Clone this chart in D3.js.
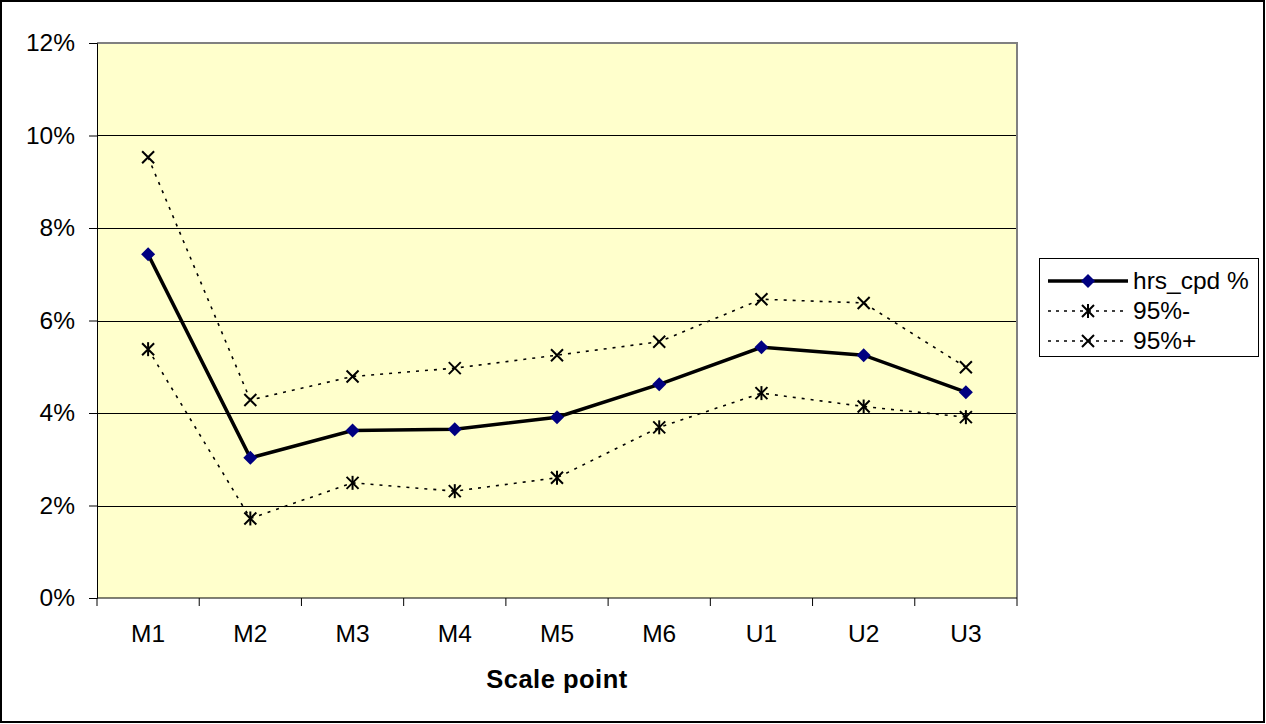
<!DOCTYPE html>
<html><head><meta charset="utf-8">
<script src="https://cdn.jsdelivr.net/npm/d3@7"></script>
<style>body{margin:0;background:#fff}svg{display:block;font-family:Arial,"Liberation Sans",sans-serif}</style>
</head><body>
<svg id="c" width="1266" height="724"></svg>
<script>
const categories = ["M1","M2","M3","M4","M5","M6","U1","U2","U3"];
const hrsCpd = [7.43, 3.03, 3.62, 3.65, 3.91, 4.62, 5.42, 5.25, 4.45];
const lower95 = [5.38, 1.72, 2.49, 2.31, 2.60, 3.69, 4.43, 4.14, 3.91];
const upper95 = [9.53, 4.28, 4.79, 4.97, 5.25, 5.54, 6.46, 6.38, 4.99];
const yTicks = [0, 2, 4, 6, 8, 10, 12];
const seriesNames = ["hrs_cpd %", "95%-", "95%+"];

const svg = d3.select("#c");
const L = 97, R = 1017, T = 43, B = 598;
const FS = 24.5;

svg.append("rect").attr("x",1).attr("y",1).attr("width",1263).attr("height",721)
  .attr("fill","#fff").attr("stroke","#000").attr("stroke-width",2);

const x = d3.scaleBand().domain(categories).range([L,R]);
const y = d3.scaleLinear().domain([0,12]).range([B,T]);

svg.append("rect").attr("x",L).attr("y",T).attr("width",R-L).attr("height",B-T).attr("fill","#FFFFCC");

svg.append("g").selectAll("line").data(yTicks.filter(d=>d>0)).join("line")
  .attr("x1",L).attr("x2",R).attr("y1",d=>Math.round(y(d))+0.5).attr("y2",d=>Math.round(y(d))+0.5)
  .attr("stroke",d=>d===12?"#808080":"#000").attr("stroke-width",1);
svg.append("path").attr("d",`M${L},${T}H${R}V${B}`).attr("fill","none").attr("stroke","#808080").attr("stroke-width",2);

const yAxis = d3.axisLeft(y).tickValues(yTicks).tickFormat(d=>d+"%").tickSizeOuter(0).tickSize(8).tickPadding(14);
const gy = svg.append("g").attr("transform",`translate(${L},0)`).call(yAxis);
gy.selectAll("text").attr("font-size",FS).attr("fill","#000").attr("font-family","Arial, 'Liberation Sans', sans-serif");
gy.selectAll("line,path").attr("stroke","#000");

const gx = svg.append("g").attr("transform",`translate(0,${B})`);
gx.append("line").attr("x1",L).attr("x2",R).attr("y1",0).attr("y2",0).attr("stroke","#000");
const edges = categories.map(c=>x(c)).concat([R]);
gx.selectAll("line.t").data(edges).join("line").attr("class","t")
  .attr("x1",d=>d).attr("x2",d=>d).attr("y1",0).attr("y2",8).attr("stroke","#000");
gx.selectAll("text").data(categories).join("text")
  .attr("x",d=>x(d)+x.bandwidth()/2).attr("y",44).attr("text-anchor","middle")
  .attr("font-size",FS).text(d=>d);

svg.append("text").attr("x",(L+R)/2).attr("y",688).attr("text-anchor","middle")
  .attr("font-size",25.5).attr("font-weight","bold").attr("letter-spacing",0.5).text("Scale point");

const cx = d => x(d)+x.bandwidth()/2;
const line = d3.line().x((d,i)=>cx(categories[i])).y(d=>y(d));

svg.append("path").datum(lower95).attr("d",line).attr("fill","none").attr("stroke","#000").attr("stroke-width",1.6).attr("stroke-dasharray","3,6");
svg.append("path").datum(upper95).attr("d",line).attr("fill","none").attr("stroke","#000").attr("stroke-width",1.6).attr("stroke-dasharray","3,6");
svg.append("path").datum(hrsCpd).attr("d",line).attr("fill","none").attr("stroke","#000").attr("stroke-width",3.5);

function diamond(g,px,py){ g.append("path").attr("d",`M${px},${py-7}L${px+7},${py}L${px},${py+7}L${px-7},${py}Z`).attr("fill","#000080"); }
function cross(g,px,py){ const s=6; g.append("path").attr("d",`M${px-s},${py-s}L${px+s},${py+s}M${px-s},${py+s}L${px+s},${py-s}`).attr("stroke","#000").attr("stroke-width",2).attr("fill","none"); }
function star(g,px,py){ cross(g,px,py); g.append("path").attr("d",`M${px},${py-7}V${py+7}`).attr("stroke","#000").attr("stroke-width",2); }

const mk = svg.append("g");
hrsCpd.forEach((v,i)=>diamond(mk,cx(categories[i]),y(v)));
lower95.forEach((v,i)=>star(mk,cx(categories[i]),y(v)));
upper95.forEach((v,i)=>cross(mk,cx(categories[i]),y(v)));

const lg = svg.append("g");
lg.append("rect").attr("x",1039.5).attr("y",258.5).attr("width",219).attr("height",98).attr("fill","#fff").attr("stroke","#000");
const ly = [281, 311, 341];
lg.append("line").attr("x1",1048).attr("x2",1128).attr("y1",ly[0]).attr("y2",ly[0]).attr("stroke","#000").attr("stroke-width",3.5);
diamond(lg,1088,ly[0]);
[1,2].forEach(k=>{
  lg.append("line").attr("x1",1048).attr("x2",1128).attr("y1",ly[k]).attr("y2",ly[k]).attr("stroke","#000").attr("stroke-width",1.6).attr("stroke-dasharray","3,5");
  if(k===1) star(lg,1088,ly[k]); else cross(lg,1088,ly[k]);
});
lg.selectAll("text").data(seriesNames).join("text").attr("x",1133).attr("y",(d,i)=>ly[i]+8)
  .attr("font-size",FS).text(d=>d);
</script>
</body></html>
